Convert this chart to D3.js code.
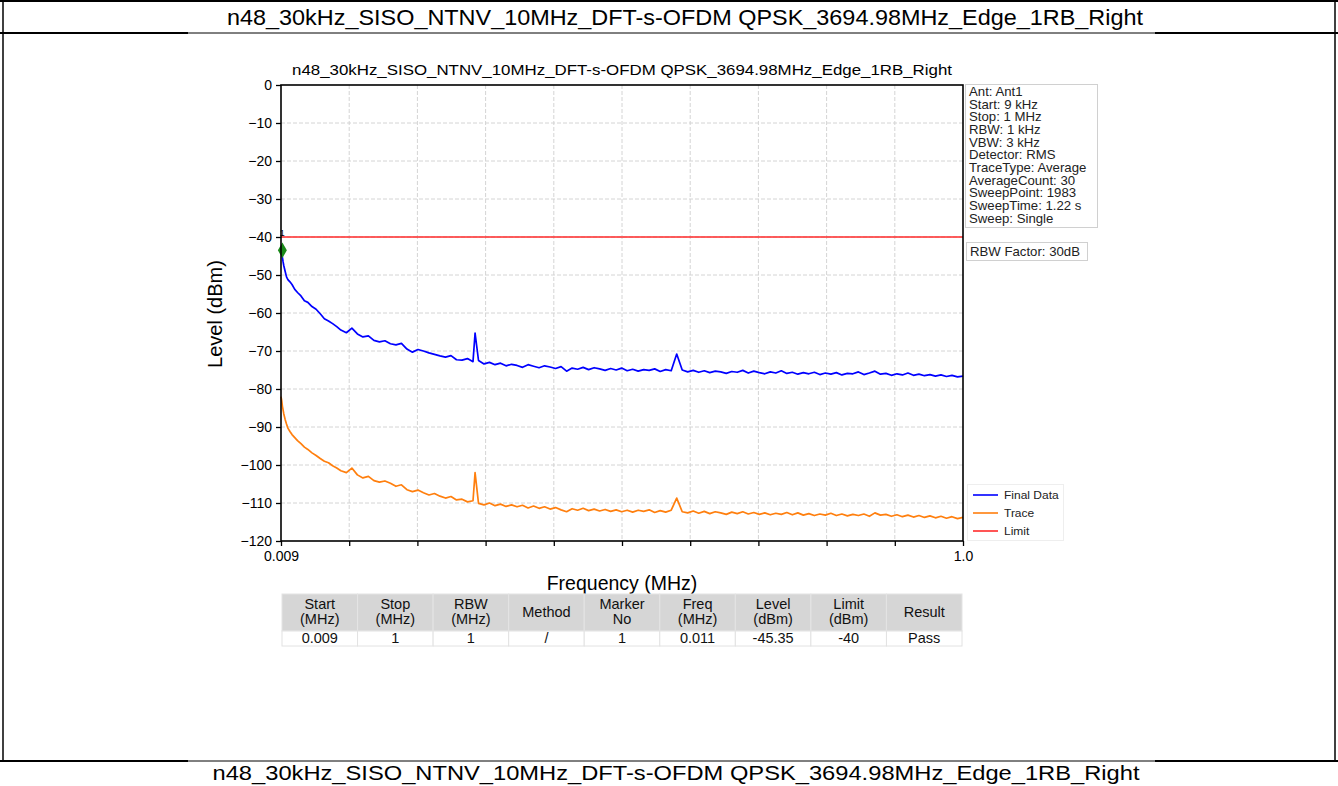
<!DOCTYPE html>
<html><head><meta charset="utf-8">
<script src="https://cdn.jsdelivr.net/npm/d3@7"></script>
<style>
html,body{margin:0;padding:0;background:#fff;}
svg{display:block;font-family:"Liberation Sans",Arial,sans-serif;}
</style></head>
<body>
<svg id="c" width="1338" height="786"></svg>
<script>
const pageTitle = "n48_30kHz_SISO_NTNV_10MHz_DFT-s-OFDM QPSK_3694.98MHz_Edge_1RB_Right";
const chartTitle = "n48_30kHz_SISO_NTNV_10MHz_DFT-s-OFDM QPSK_3694.98MHz_Edge_1RB_Right";
const xLabel = "Frequency (MHz)";
const yLabel = "Level (dBm)";
const xTickValues = [0.009,0.1081,0.2072,0.3063,0.4054,0.5045,0.6036,0.7027,0.8018,0.9009,1.0];
const xTickLabels = {"0.009":"0.009","1":"1.0"};
const yTickValues = [0,-10,-20,-30,-40,-50,-60,-70,-80,-90,-100,-110,-120];
const limitLevel = -40;
const markerFreq = 0.011, markerLevel = -43.5, markerNo = "1";
const infoLines = ["Ant: Ant1","Start: 9 kHz","Stop: 1 MHz","RBW: 1 kHz","VBW: 3 kHz","Detector: RMS","TraceType: Average","AverageCount: 30","SweepPoint: 1983","SweepTime: 1.22 s","Sweep: Single"];
const rbwFactor = "RBW Factor: 30dB";
const legendNames = ["Final Data","Trace","Limit"];
const seriesColors = ["#0000ff","#ff7f0e","#ff2a2a"];
const tableHeaders = [["Start","(MHz)"],["Stop","(MHz)"],["RBW","(MHz)"],["Method"],["Marker","No"],["Freq","(MHz)"],["Level","(dBm)"],["Limit","(dBm)"],["Result"]];
const tableRow = ["0.009","1","1","/","1","0.011","-45.35","-40","Pass"];

const freqs = [
 0.009,0.010,0.011,0.012,0.013,0.015,0.017,0.019,0.022,0.025,0.029,0.033,0.038,0.043,0.048,0.054,0.060,0.066,0.072,0.078,0.084,0.090,0.096,
 0.104,0.112,0.120,0.128,0.136,0.144,0.152,0.160,
 0.168,0.176,0.184,0.192,0.200,0.208,0.216,0.224,
 0.232,0.240,0.248,0.256,0.264,0.272,0.280,0.288,
 0.291,0.296,0.304,0.312,0.320,0.328,0.336,0.344,
 0.352,0.360,0.368,0.376,0.384,0.392,0.400,0.408,
 0.416,0.424,0.432,0.440,0.448,0.456,0.464,0.472,
 0.480,0.488,0.496,0.504,0.512,0.520,0.528,0.536,
 0.544,0.552,0.560,0.568,0.576,0.584,0.592,0.600,
 0.608,0.616,0.624,0.632,0.640,0.648,0.656,0.664,
 0.672,0.680,0.688,0.696,0.704,0.712,0.720,0.728,
 0.736,0.744,0.752,0.760,0.768,0.776,0.784,0.792,
 0.800,0.808,0.816,0.824,0.832,0.840,0.848,0.856,
 0.864,0.872,0.880,0.888,0.896,0.904,0.912,0.920,
 0.928,0.936,0.944,0.952,0.960,0.968,0.976,0.984,
 0.992,1.000];

const finalData = [
 -42.5,-43.5,-45.35,-46.5,-47.5,-49,-50.5,-51.2,-51.8,-52.5,-53.8,-54.6,-55.5,-56.8,-57.2,-58.3,-59,-60.2,-61.5,-62.1,-62.8,-63.6,-64.5,
 -65.2,-64.0,-65.5,-66.3,-66.0,-67.2,-67.6,-67.3,
 -68.1,-68.4,-68.0,-69.5,-70.3,-69.6,-70.0,-70.5,
 -70.9,-71.3,-71.6,-71.2,-72.3,-72.4,-72.0,-72.8,
 -65.3,-72.5,-73.4,-73.0,-73.6,-73.2,-73.9,-73.5,
 -73.8,-74.3,-73.6,-74.0,-74.4,-73.9,-74.2,-74.6,
 -74.1,-75.3,-74.5,-74.8,-74.3,-74.9,-74.4,-74.7,
 -75.1,-74.6,-75.0,-74.5,-75.2,-74.8,-75.3,-74.9,
 -75.1,-74.7,-75.4,-74.9,-75.2,-70.8,-75.0,-75.5,
 -75.1,-75.6,-75.2,-75.7,-75.3,-75.5,-75.9,-75.4,
 -75.6,-75.1,-75.8,-75.3,-75.7,-76.0,-75.5,-75.8,
 -75.2,-75.9,-75.6,-76.1,-75.7,-76.0,-75.6,-76.2,
 -75.8,-76.1,-75.7,-76.3,-75.9,-76.0,-75.5,-76.2,
 -75.8,-75.3,-76.1,-75.9,-76.4,-76.0,-76.3,-75.8,
 -76.4,-76.1,-76.5,-76.2,-76.6,-76.3,-76.7,-76.4,
 -76.8,-76.6];

const traceData = [
 -82,-83,-84.5,-85.5,-86.5,-88,-89.2,-90.3,-91.2,-92,-92.8,-93.6,-94.4,-95.3,-95.9,-96.8,-97.5,-98.3,-99.0,-99.4,-100.2,-100.8,-101.5,
 -102.0,-100.8,-102.6,-103.4,-103.0,-104.1,-104.5,-104.2,
 -104.8,-105.6,-105.2,-106.5,-107.0,-106.6,-107.3,-107.9,
 -107.5,-108.2,-108.7,-108.3,-109.2,-109.0,-109.7,-109.4,
 -102.0,-110.1,-110.5,-110.0,-110.7,-110.3,-110.9,-110.5,
 -111.0,-110.6,-111.3,-110.8,-111.4,-111.0,-111.6,-111.2,
 -111.8,-112.3,-111.5,-111.9,-111.4,-112.0,-111.6,-112.1,
 -111.7,-112.2,-111.8,-112.3,-111.9,-112.4,-111.9,-112.2,
 -111.8,-112.5,-112.0,-112.4,-111.9,-108.7,-112.3,-112.6,
 -112.1,-112.7,-112.2,-112.8,-112.3,-112.6,-113.0,-112.4,
 -112.8,-112.3,-112.9,-112.5,-113.0,-112.6,-113.1,-112.7,
 -113.0,-112.5,-113.1,-112.6,-113.2,-112.8,-113.3,-112.9,
 -113.2,-112.7,-113.3,-112.9,-113.4,-113.0,-113.3,-112.9,
 -113.5,-112.6,-113.2,-113.0,-113.5,-113.1,-113.6,-113.2,
 -113.7,-113.3,-113.8,-113.4,-113.9,-113.5,-114.0,-113.6,
 -114.1,-113.8];

const svg = d3.select("#c");
const W = 1338, H = 786;

// ---- page frame (document table) ----
const frame = svg.append("g").attr("stroke","#000").attr("fill","none");
frame.append("line").attr("x1",0).attr("x2",W).attr("y1",1).attr("y2",1).attr("stroke-width",2);
frame.append("line").attr("x1",3).attr("x2",3).attr("y1",0).attr("y2",761).attr("stroke-width",1.5);
frame.append("line").attr("x1",1335).attr("x2",1335).attr("y1",0).attr("y2",761).attr("stroke-width",1.5);
frame.append("line").attr("x1",0).attr("x2",W).attr("y1",33).attr("y2",33).attr("stroke-width",1);
frame.append("line").attr("x1",0).attr("x2",188).attr("y1",33).attr("y2",33).attr("stroke-width",2);
frame.append("line").attr("x1",1155).attr("x2",W).attr("y1",33).attr("y2",33).attr("stroke-width",2);
frame.append("line").attr("x1",0).attr("x2",W).attr("y1",761).attr("y2",761).attr("stroke-width",1);
frame.append("line").attr("x1",0).attr("x2",188).attr("y1",761).attr("y2",761).attr("stroke-width",2);
frame.append("line").attr("x1",1155).attr("x2",W).attr("y1",761).attr("y2",761).attr("stroke-width",2);

svg.append("text").attr("x",685).attr("y",25).attr("text-anchor","middle")
  .attr("font-size",21.5).attr("textLength",916).attr("lengthAdjust","spacingAndGlyphs").text(pageTitle);
svg.append("text").attr("x",676).attr("y",780).attr("text-anchor","middle")
  .attr("font-size",21).attr("textLength",927).attr("lengthAdjust","spacingAndGlyphs").text(pageTitle);

// ---- plot ----
const L = 281, R = 963, T = 85, B = 541;
const x = d3.scaleLinear().domain([0.009, 1.0]).range([L, R]);
const y = d3.scaleLinear().domain([-120, 0]).range([B, T]);

// grid
const grid = svg.append("g").attr("stroke","#d4d4d4").attr("stroke-width",1).attr("stroke-dasharray","4,2");
grid.selectAll(".gx").data(xTickValues.slice(1,-1)).enter().append("line")
  .attr("x1",d=>x(d)).attr("x2",d=>x(d)).attr("y1",T).attr("y2",B);
grid.selectAll(".gy").data(yTickValues.slice(1,-1)).enter().append("line")
  .attr("x1",L).attr("x2",R).attr("y1",d=>y(d)).attr("y2",d=>y(d));

// limit
svg.append("line").attr("x1",x(0.009)).attr("x2",x(1.0)).attr("y1",y(limitLevel)).attr("y2",y(limitLevel))
  .attr("stroke",seriesColors[2]).attr("stroke-width",1.6);

const n = Math.min(freqs.length, finalData.length, traceData.length);
const idx = d3.range(n);
const lineF = d3.line().x(i=>x(freqs[i])).y(i=>y(finalData[i]));
const lineT = d3.line().x(i=>x(freqs[i])).y(i=>y(traceData[i]));
svg.append("path").attr("d",lineT(idx)).attr("fill","none").attr("stroke",seriesColors[1]).attr("stroke-width",1.7).attr("stroke-linejoin","round");
svg.append("path").attr("d",lineF(idx)).attr("fill","none").attr("stroke",seriesColors[0]).attr("stroke-width",1.7).attr("stroke-linejoin","round");

// marker
svg.append("path").attr("d",d3.symbol().type(d3.symbolDiamond).size(70)())
  .attr("transform",`translate(${x(markerFreq)},${y(markerLevel)})`).attr("fill","#1a8a1a");
svg.append("text").attr("x",x(markerFreq)).attr("y",y(limitLevel)-1).attr("text-anchor","middle")
  .attr("font-size",9).attr("fill","#000").text(markerNo);

// axes
const xAxis = d3.axisBottom(x).tickValues(xTickValues).tickSize(5).tickPadding(5)
  .tickFormat(d=>xTickLabels[String(+d.toFixed(4))] || "");
const gx = svg.append("g").attr("transform",`translate(0,${B})`).call(xAxis);
gx.select(".domain").remove();
gx.selectAll(".tick line").attr("stroke","#000").attr("stroke-width",1.3);
gx.selectAll("text").attr("font-size",14).attr("fill","#000").attr("font-family","'Liberation Sans',Arial,sans-serif");

const yAxis = d3.axisLeft(y).tickValues(yTickValues).tickSize(5).tickPadding(4)
  .tickFormat(d=>d<0?"\u2212"+Math.abs(d):String(d));
const gy = svg.append("g").attr("transform",`translate(${L},0)`).call(yAxis);
gy.select(".domain").remove();
gy.selectAll(".tick line").attr("stroke","#000").attr("stroke-width",1.3);
gy.selectAll("text").attr("font-size",14).attr("fill","#000").attr("font-family","'Liberation Sans',Arial,sans-serif");

svg.append("rect").attr("x",L).attr("y",T).attr("width",R-L).attr("height",B-T)
  .attr("fill","none").attr("stroke","#000").attr("stroke-width",1.6);

svg.append("text").attr("x",(L+R)/2).attr("y",75).attr("text-anchor","middle").attr("font-size",14.5)
  .attr("textLength",660).attr("lengthAdjust","spacingAndGlyphs").text(chartTitle);
svg.append("text").attr("x",(L+R)/2).attr("y",590).attr("text-anchor","middle").attr("font-size",19.5).text(xLabel);
svg.append("text").attr("transform",`translate(222,${(T+B)/2+1}) rotate(-90)`).attr("text-anchor","middle").attr("font-size",20).text(yLabel);

// info box
svg.append("rect").attr("x",965.5).attr("y",84.5).attr("width",132).attr("height",143)
  .attr("fill","#fff").attr("stroke","#d0d0d0");
svg.append("g").selectAll("text").data(infoLines).enter().append("text")
  .attr("transform",(d,i)=>`translate(969,${96+i*12.65}) scale(1.1,1)`).attr("font-size",12).attr("fill","#222").text(d=>d);
svg.append("rect").attr("x",966.5).attr("y",242.5).attr("width",121).attr("height",18)
  .attr("fill","#fff").attr("stroke","#d0d0d0");
svg.append("text").attr("transform","translate(970,256) scale(1.1,1)").attr("font-size",12).attr("fill","#222").text(rbwFactor);

// legend
svg.append("rect").attr("x",967.5).attr("y",484.5).attr("width",96).attr("height",56)
  .attr("fill","#fff").attr("stroke","#eeeeee");
const lg = svg.append("g").selectAll("g").data(legendNames).enter().append("g")
  .attr("transform",(d,i)=>`translate(973,${495+i*18})`);
lg.append("line").attr("x1",0).attr("x2",25).attr("stroke",(d,i)=>seriesColors[i]).attr("stroke-width",1.6);
lg.append("text").attr("transform","translate(31,3.5) scale(1.2,1)").attr("font-size",10).attr("fill","#222").text(d=>d);

// table
const tx0 = 282, tw = (962-282)/tableHeaders.length;
const tbl = svg.append("g").attr("font-size",14.5).attr("fill","#111");
tbl.selectAll(".hc").data(tableHeaders).enter().append("rect")
  .attr("x",(d,i)=>tx0+i*tw).attr("y",594).attr("width",tw).attr("height",37)
  .attr("fill","#d6d6d6").attr("stroke","#e4e4e4").attr("stroke-width",1);
tbl.selectAll(".ht").data(tableHeaders).enter().append("text")
  .attr("text-anchor","middle").attr("x",(d,i)=>tx0+(i+0.5)*tw)
  .each(function(d){
    const t = d3.select(this);
    if (d.length===1) t.append("tspan").attr("x",t.attr("x")).attr("y",617).text(d[0]);
    else { t.append("tspan").attr("x",t.attr("x")).attr("y",609).text(d[0]);
           t.append("tspan").attr("x",t.attr("x")).attr("y",624).text(d[1]); }
  });
tbl.selectAll(".dc").data(tableRow).enter().append("rect")
  .attr("x",(d,i)=>tx0+i*tw).attr("y",631).attr("width",tw).attr("height",15)
  .attr("fill","#fff").attr("stroke","#e2e2e2");
tbl.selectAll(".dt").data(tableRow).enter().append("text")
  .attr("text-anchor","middle").attr("x",(d,i)=>tx0+(i+0.5)*tw).attr("y",643).text(d=>d);
</script>
</body></html>
